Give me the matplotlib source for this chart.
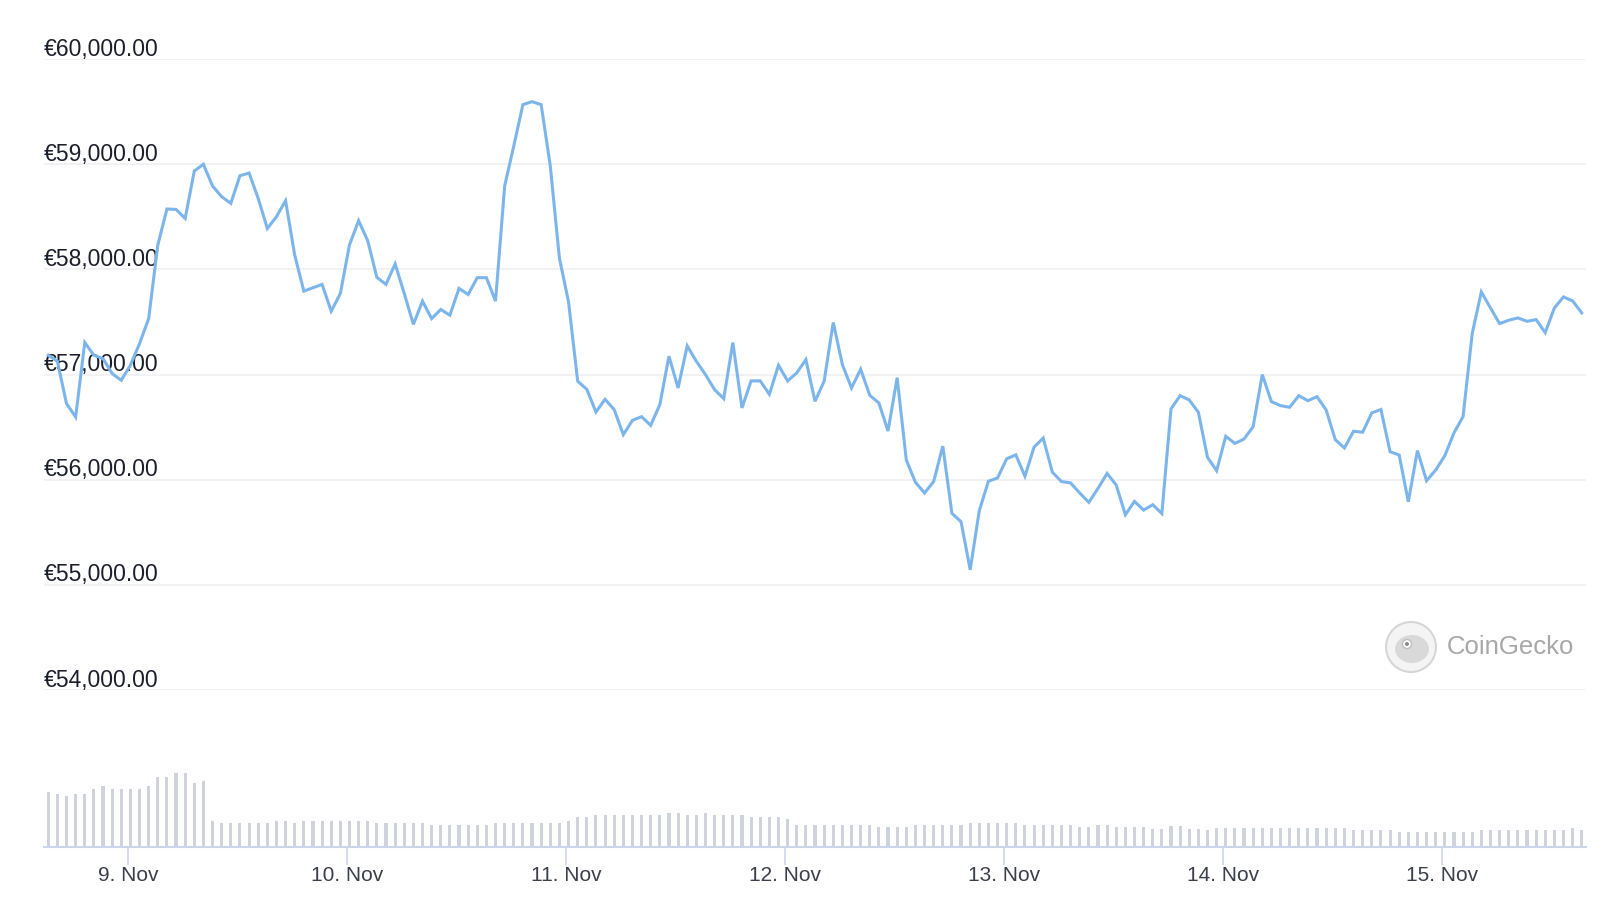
import numpy as np
import pandas as pd
import matplotlib
matplotlib.use('Agg')
import matplotlib.pyplot as plt
import matplotlib.transforms as mtransforms
from matplotlib.patches import Ellipse

plt.rcParams['font.family'] = ['Liberation Sans', 'DejaVu Sans']

# hourly prices in EUR, 8 Nov 15:16 -> 15 Nov 15:16
price = [57184, 57127, 56724, 56597, 57305, 57184, 57152, 57010, 56946, 57089,
         57295, 57533, 58232, 58575, 58571, 58486, 58937, 59000, 58794, 58692,
         58629, 58892, 58917, 58676, 58390, 58502, 58654, 58137, 57794,
         57826, 57858, 57603, 57772, 58234, 58464, 58273, 57925, 57858, 58053,
         57772, 57478, 57699, 57533, 57619, 57565, 57820, 57762, 57922, 57922,
         57699, 58793, 59175, 59568, 59596, 59568, 58984, 58107, 57692,
         56937, 56860, 56644, 56765, 56667, 56429, 56565, 56600, 56517, 56714,
         57175, 56873, 57273, 57127, 57000, 56857, 56771, 57305, 56683, 56940,
         56940, 56813, 57089, 56940, 57016, 57143, 56746, 56937,
         57496, 57095, 56873, 57051, 56803, 56730, 56463, 56971, 56189, 55976,
         55874, 55983, 56320, 55680, 55601, 55143, 55706, 55986, 56017, 56199,
         56237, 56033, 56310, 56396, 56072, 55983, 55970, 55874, 55785,
         55917, 56060, 55949, 55667, 55794, 55711, 55762, 55679, 56673, 56800,
         56759, 56641, 56213, 56086, 56413, 56346, 56387, 56505, 57000, 56743,
         56705, 56689, 56800, 56752, 56790, 56663, 56381,
         56302, 56461, 56452, 56636, 56668, 56267, 56235, 55790, 56277, 55990,
         56092, 56229, 56445, 56601, 57390, 57787, 57634, 57485, 57517, 57539,
         57507, 57523, 57399, 57634, 57739, 57701, 57587]

# hourly volume, billions EUR
volume = [33.0, 32.0, 30.6, 32.0, 32.0, 35.0, 36.4, 35.0, 35.0, 35.0,
          35.0, 36.4, 42.0, 42.0, 44.4, 44.4, 38.6, 39.6, 15.6, 14.6,
          14.6, 14.6, 14.6, 14.6, 14.6, 15.6, 15.6, 14.6, 15.6, 15.6,
          15.6, 15.6, 15.6, 15.6, 15.6, 15.6, 14.6, 14.6, 14.6, 14.6,
          14.6, 14.6, 13.4, 13.4, 13.4, 13.4, 13.4, 13.4, 13.4, 14.6,
          14.6, 14.6, 14.6, 14.6, 14.6, 14.6, 14.6, 15.6, 18.0, 18.0,
          19.4, 19.4, 19.4, 19.4, 19.4, 19.4, 19.4, 19.4, 20.4, 20.4,
          19.4, 19.4, 20.4, 19.4, 19.4, 19.4, 19.4, 18.0, 18.0, 18.0,
          18.0, 17.0, 13.4, 13.4, 13.4, 13.4, 13.4, 13.4, 13.4, 13.4,
          13.4, 12.0, 12.0, 12.0, 12.0, 13.4, 13.4, 13.4, 13.4, 13.4,
          13.4, 14.6, 14.6, 14.6, 14.6, 14.6, 14.6, 13.4, 13.4, 13.4,
          13.4, 13.4, 13.4, 12.0, 12.0, 13.4, 13.4, 12.0, 12.0, 12.0,
          12.0, 11.0, 11.0, 12.4, 12.4, 11.0, 11.0, 10.0, 11.4, 11.4,
          11.4, 11.4, 11.4, 11.4, 11.4, 11.4, 11.4, 11.4, 11.4, 11.4,
          11.4, 11.4, 11.4, 10.0, 10.0, 10.0, 10.0, 10.0, 9.0, 9.0,
          9.0, 9.0, 9.0, 9.0, 9.0, 9.0, 9.0, 10.0, 10.0, 10.0,
          10.0, 10.0, 10.0, 10.0, 10.0, 10.0, 10.0, 11.4, 10.0]

times = pd.date_range('2021-11-08 15:16', periods=len(price), freq='h')

price_ticks = [54000, 55000, 56000, 57000, 58000, 59000, 60000]
price_labels = ['€54,000.00', '€55,000.00', '€56,000.00', '€57,000.00',
                '€58,000.00', '€59,000.00', '€60,000.00']
day_ticks = pd.date_range('2021-11-09', '2021-11-15', freq='D')
day_labels = ['9. Nov', '10. Nov', '11. Nov', '12. Nov', '13. Nov', '14. Nov', '15. Nov']

fig = plt.figure(figsize=(16, 9.01), dpi=100)
W, H = 1600, 901
left, right = 44 / W, 1586 / W

ax = fig.add_axes([left, 1 - 690 / H, right - left, (690 - 59.2) / H])
axv = fig.add_axes([left, 1 - 847 / H, right - left, 100 / H], sharex=ax)

pad = pd.Timedelta(minutes=28)
ax.set_xlim(times[0] - pad, times[-1] + pad)

ax.plot(times, price, color='#7cb5ec', lw=2.2, zorder=3, solid_joinstyle='miter')
ax.set_ylim(54000, 60000)
for v in price_ticks:
    ax.axhline(v, color='#f0f0f2', lw=1.2, zorder=0)
trans = mtransforms.blended_transform_factory(ax.transAxes, ax.transData)
trans = mtransforms.offset_copy(trans, fig=fig, x=0, y=3.5, units='dots')
for v, lab in zip(price_ticks, price_labels):
    ax.text(0, v, lab, transform=trans, ha='left', va='baseline',
            fontsize=16.5, color='#1c1f2b', zorder=1)
ax.axis('off')

axv.bar(times, volume, width=0.34 / 24, color='#cfd3dc', zorder=2)
axv.set_ylim(0, 60)
for s in ['top', 'right', 'left']:
    axv.spines[s].set_visible(False)
axv.spines['bottom'].set_color('#ccd6eb')
axv.spines['bottom'].set_linewidth(1.5)
axv.set_yticks([])
axv.set_xticks(day_ticks)
axv.set_xticklabels(day_labels, fontsize=15, color='#3b3f4a')
axv.tick_params(axis='x', length=13, width=1.2, color='#ccd6eb', pad=1)

# CoinGecko watermark
cx, cy = 1411 / W, 1 - 647 / H
fig.patches.append(Ellipse((cx, cy), 50 / W, 50 / H, transform=fig.transFigure,
                           facecolor='#f4f4f4', edgecolor='#d6d6d6', lw=1.5))
fig.patches.append(Ellipse((cx + 1 / W, cy - 2 / H), 34 / W, 28 / H, transform=fig.transFigure,
                           facecolor='#d9d9d9', edgecolor='none'))
fig.patches.append(Ellipse((cx - 4 / W, cy + 3 / H), 9 / W, 9 / H, transform=fig.transFigure,
                           facecolor='white', edgecolor='#bdbdbd', lw=1))
fig.patches.append(Ellipse((cx - 4 / W, cy + 3 / H), 4 / W, 4 / H, transform=fig.transFigure,
                           facecolor='#8a8a8a', edgecolor='none'))
fig.text(1447 / W, cy, 'CoinGecko', fontsize=18.5, color='#a8a8a8', ha='left', va='center')

fig.savefig('out.png', dpi=100)
